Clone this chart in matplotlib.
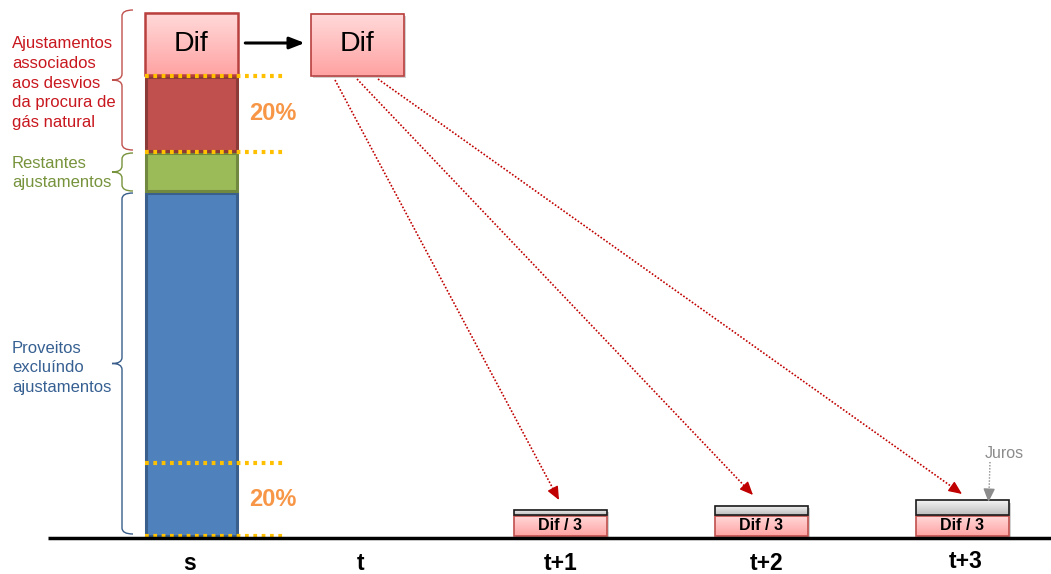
import matplotlib
matplotlib.use("Agg")
import matplotlib.pyplot as plt
import numpy as np
from matplotlib.path import Path
from matplotlib.patches import PathPatch, Rectangle
from matplotlib.colors import LinearSegmentedColormap

plt.rcParams['font.family'] = ['Liberation Sans', 'DejaVu Sans']

# ---------------- data ----------------
periods = ["s", "t", "t+1", "t+2", "t+3"]
# stacked components of year s (bottom -> top)
seg_names = ["Proveitos\nexcluíndo\najustamentos", "Restantes\najustamentos", "", "Dif"]
seg_values = [345, 40, 76, 64]
band_20 = 74                      # height of the 20% bands
band_label = "20%"
# recovery in t+1..t+3
dif3_values = [21, 21, 21]
juros_values = [5.5, 9.5, 15]
dif_label = "Dif"
dif3_label = "Dif / 3"
juros_label = "Juros"
red_label = "Ajustamentos\nassociados\naos desvios\nda procura de\ngás natural"

# ---------------- layout ----------------
fig = plt.figure(figsize=(10.51, 5.74), dpi=100)
ax = fig.add_axes([0, 0, 1, 1])
ax.set_axis_off()

x_pos = [191, 357, 560, 761, 962]
bar_w = 93
label_x = [190, 361, 561, 767, 966]
label_y = [-26, -26, -26, -26.5, -25]

pink_cmap = LinearSegmentedColormap.from_list("pink", ["#FFA3A3", "#FFDADA"])
gray_cmap = LinearSegmentedColormap.from_list("gray", ["#BEBEBE", "#F4F4F4"])


def grad_box(xc, y0, h, w, cmap, edge, lw=1.2, shadow=True, z=3):
    x0 = xc - w / 2
    if shadow:
        ax.add_patch(Rectangle((x0 + 2, y0 - 2.5), w, h, facecolor="#000000",
                               alpha=0.18, edgecolor="none", zorder=z - 0.5))
    g = np.linspace(0, 1, 64).reshape(-1, 1)
    ax.imshow(g, extent=[x0, x0 + w, y0, y0 + h], origin="lower", aspect="auto",
              cmap=cmap, zorder=z, interpolation="bilinear")
    ax.add_patch(Rectangle((x0, y0), w, h, facecolor="none", edgecolor=edge,
                           lw=lw, zorder=z + 0.1))


def brace(x_end, x_spine, x_tip, y_bot, y_top, color, r=6):
    ym = (y_bot + y_top) / 2
    verts = [(x_end, y_top), (x_spine, y_top), (x_spine, y_top - r),
             (x_spine, ym + r),
             (x_spine, ym), (x_tip, ym),
             (x_spine, ym), (x_spine, ym - r),
             (x_spine, y_bot + r),
             (x_spine, y_bot), (x_end, y_bot)]
    codes = [Path.MOVETO, Path.CURVE3, Path.CURVE3, Path.LINETO,
             Path.CURVE3, Path.CURVE3, Path.CURVE3, Path.CURVE3,
             Path.LINETO, Path.CURVE3, Path.CURVE3]
    ax.add_patch(PathPatch(Path(verts, codes), facecolor="none",
                           edgecolor=color, lw=1.0, zorder=4))


# ---------------- stacked bar s ----------------
bottoms = np.concatenate([[0], np.cumsum(seg_values)[:-1]])
seg_face = ["#4F81BD", "#9BBB59", "#C0504D"]
seg_edge = ["#3A5F8D", "#71893F", "#8C3A38"]
for i in range(3):
    ax.bar(x_pos[0], seg_values[i] - 1.5, bottom=bottoms[i] + 0.75, width=bar_w - 2,
           color=seg_face[i], edgecolor=seg_edge[i], lw=2.2, zorder=3)
# Dif segment (gradient)
grad_box(x_pos[0], bottoms[3] + 1, seg_values[3] - 1.5, bar_w, pink_cmap, "#B8403E",
         lw=1.8, shadow=False)
ax.text(x_pos[0], bottoms[3] + seg_values[3] / 2, dif_label, ha="center",
        va="center", fontsize=20.5, zorder=6)

# Dif box in t
grad_box(x_pos[1], bottoms[3] + 0.5, seg_values[3] - 2, bar_w, pink_cmap, "#B8403E", lw=1.2)
ax.text(x_pos[1], bottoms[3] + seg_values[3] / 2, dif_label, ha="center",
        va="center", fontsize=20.5, zorder=6)
ax.annotate("", xy=(x_pos[1] - bar_w / 2 - 3, bottoms[3] + seg_values[3] / 2 + 1),
            xytext=(x_pos[0] + bar_w / 2 + 5, bottoms[3] + seg_values[3] / 2 + 1),
            arrowprops=dict(arrowstyle="-|>,head_length=0.9,head_width=0.35",
                            color="black", lw=2.2), zorder=6)

# dotted 20% bands
top_red = bottoms[2] + seg_values[2]
dot_levels = [top_red, bottoms[2], band_20, 1]
for yl in dot_levels:
    ax.plot([x_pos[0] - bar_w / 2, 283], [yl, yl], color="#FFC000", lw=3,
            linestyle=(0, (0.9, 1.1)), zorder=5, solid_capstyle="butt",
            dash_capstyle="butt")
ax.text(273, (top_red + bottoms[2]) / 2 + 1, band_label, ha="center", va="center",
        fontsize=17, fontweight="bold", color="#F79646", zorder=6)
ax.text(273, band_20 / 2 + 0.5, band_label, ha="center", va="center",
        fontsize=17, fontweight="bold", color="#F79646", zorder=6)

# braces + labels
brace(133, 122, 112, bottoms[2] + 2, bottoms[3] + seg_values[3] + 2, "#C0504D")
brace(133, 122, 112, bottoms[1] + 1, bottoms[1] + seg_values[1] - 1, "#77933C")
brace(133, 122, 112, 3, seg_values[0] - 1, "#385D8A")
ax.text(12, 454, red_label, ha="left", va="center", fontsize=12,
        color="#C8171E", linespacing=1.41)
ax.text(12, 364, seg_names[1], ha="left", va="center", fontsize=12,
        color="#77933C", linespacing=1.41)
ax.text(12, 169, seg_names[0], ha="left", va="center", fontsize=12,
        color="#376092", linespacing=1.41)

# ---------------- recovery bars ----------------
for k in range(3):
    xc = x_pos[2 + k]
    grad_box(xc, 1, dif3_values[k] - 0.5, bar_w, pink_cmap, "#C0504D", lw=1.2)
    ax.text(xc, 1 + dif3_values[k] / 2, dif3_label, ha="center", va="center",
            fontsize=11.5, fontweight="bold", zorder=6)
    grad_box(xc, dif3_values[k] + 1, juros_values[k], bar_w, gray_cmap, "#1A1A1A", lw=1.2)

# red dotted arrows from Dif box to the recovery bars
starts = [(335, 457), (357, 458), (378, 458)]
ends = [(559, 37), (753, 42), (962, 43)]
for (xs, ys), (xe, ye) in zip(starts, ends):
    d = np.array([xe - xs, ye - ys], dtype=float)
    d /= np.hypot(*d)
    xm, ym = xe - d[0] * 12, ye - d[1] * 12
    ax.plot([xs, xm], [ys, ym], color="#C00000", lw=1.2, linestyle=(0, (1, 1.1)), zorder=5)
    ax.annotate("", xy=(xe, ye), xytext=(xm, ym),
                arrowprops=dict(arrowstyle="-|>,head_length=0.8,head_width=0.35",
                                color="#C00000", lw=1.0, shrinkA=0, shrinkB=0), zorder=5)

# Juros annotation
ax.plot([990, 989], [75, 44], color="#8C8C8C", lw=1.0, linestyle=(0, (1, 1.2)), zorder=5)
ax.annotate("", xy=(988.5, 35), xytext=(989, 45),
            arrowprops=dict(arrowstyle="-|>,head_length=0.8,head_width=0.35",
                            color="#8C8C8C", lw=1.0, shrinkA=0, shrinkB=0), zorder=5)
ax.text(1004, 84, juros_label, ha="center", va="center", fontsize=11.5, color="#8C8C8C")

# baseline + period labels
ax.plot([48, 1051], [-1, -1], color="black", lw=2.5, zorder=6, solid_capstyle="butt")
for p, lx, ly in zip(periods, label_x, label_y):
    ax.text(lx, ly, p, ha="center", va="center", fontsize=16.5, fontweight="bold")

ax.set_xlim(0, 1051)
ax.set_ylim(-37, 537)
fig.savefig("out.png", dpi=100)
